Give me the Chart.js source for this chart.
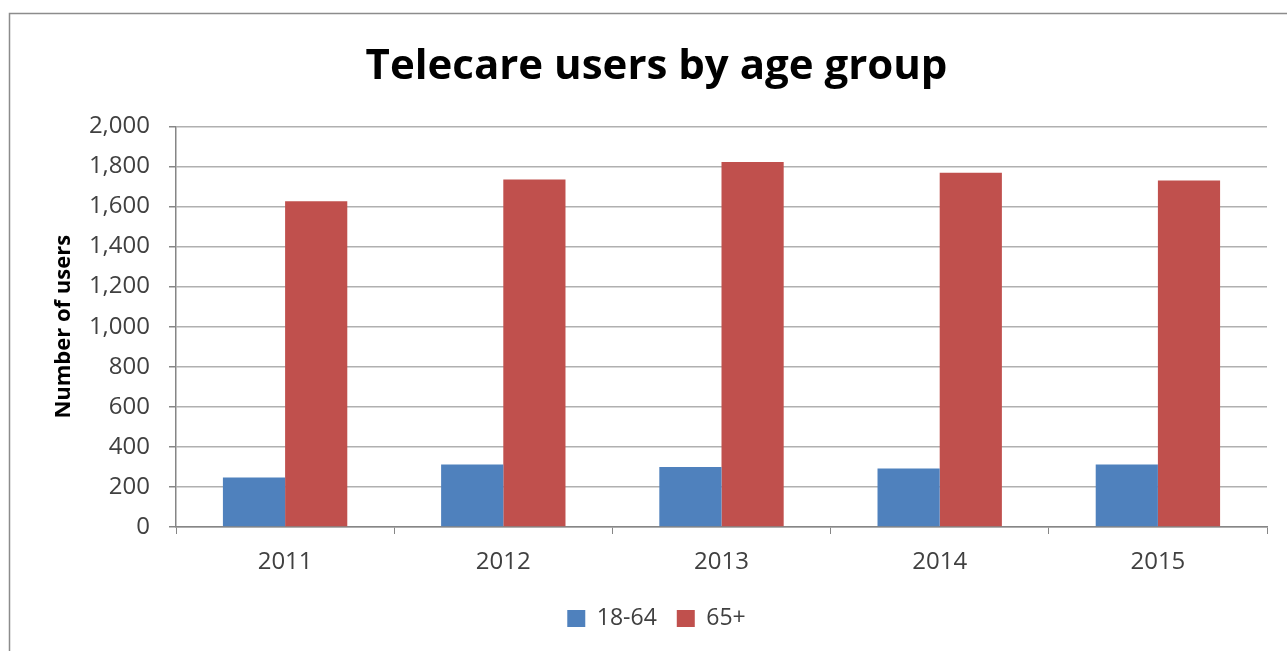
<!DOCTYPE html>
<html>
<head>
<meta charset="utf-8">
<title>Telecare users by age group</title>
<script src="https://cdn.jsdelivr.net/npm/chart.js@4/dist/chart.umd.min.js"></script>
<style>
  html, body { margin: 0; padding: 0; background: #ffffff; }
  #wrap { width: 1287px; height: 651px; position: relative; }
</style>
</head>
<body>
<div id="wrap"><canvas id="chart" width="1287" height="651"></canvas></div>
<script>
// Yearly telecare users, split by age band
const years = ['2011', '2012', '2013', '2014', '2015'];
const usersAge18to64 = [247, 312, 300, 292, 312];
const usersAge65plus = [1626, 1735, 1822, 1768, 1730];
const seriesNames = ['18-64', '65+'];

const axisGrey = '#868686';
const gridGrey = '#b0b0b0';
const textGrey = '#404040';
const baseFont = '"Open Sans", Lato, sans-serif';

// White page with a thin frame around the chart (open on the right and bottom)
const framePlugin = {
  id: 'frame',
  beforeDraw(chart) {
    const ctx = chart.ctx;
    ctx.save();
    ctx.fillStyle = '#ffffff';
    ctx.fillRect(0, 0, chart.width, chart.height);
    ctx.strokeStyle = '#8c8c8c';
    ctx.lineWidth = 1.5;
    ctx.strokeRect(9.5, 13.5, 1300, 700);
    ctx.restore();
  }
};

new Chart(document.getElementById('chart'), {
  type: 'bar',
  data: {
    labels: years,
    datasets: [
      { label: seriesNames[0], data: usersAge18to64, backgroundColor: '#4F81BD', borderWidth: 0 },
      { label: seriesNames[1], data: usersAge65plus, backgroundColor: '#C0504D', borderWidth: 0 }
    ]
  },
  options: {
    responsive: false,
    animation: false,
    devicePixelRatio: 1,
    categoryPercentage: 0.57,
    barPercentage: 1.0,
    layout: { padding: { left: 46, right: 20, top: 0, bottom: 11 } },
    plugins: {
      title: {
        display: true,
        text: 'Telecare users by age group',
        color: '#000000',
        font: { family: baseFont, size: 42, weight: 'bold' },
        padding: { top: 42, bottom: 34 }
      },
      legend: {
        display: true,
        position: 'bottom',
        labels: {
          color: textGrey,
          font: { family: baseFont, size: 23 },
          boxWidth: 18,
          boxHeight: 17,
          padding: 20
        }
      },
      tooltip: { enabled: false }
    },
    scales: {
      x: {
        offset: true,
        afterFit(scale) { scale.height = 60; },
        grid: {
          offset: true,
          drawOnChartArea: false,
          drawTicks: true,
          tickLength: 7,
          color: axisGrey,
          lineWidth: 1
        },
        border: { color: axisGrey, width: 1.5 },
        ticks: { color: textGrey, font: { family: baseFont, size: 24 }, padding: 14 }
      },
      y: {
        min: 0,
        max: 2000,
        afterFit(scale) { scale.width = 130; },
        ticks: {
          stepSize: 200,
          color: textGrey,
          font: { family: baseFont, size: 24 },
          padding: 19,
          callback: (v) => Number(v).toLocaleString('en-US')
        },
        grid: {
          color: gridGrey,
          lineWidth: 1.5,
          drawTicks: true,
          tickLength: 7,
          tickColor: axisGrey
        },
        border: { color: axisGrey, width: 1.5 },
        title: {
          display: true,
          text: 'Number of users',
          color: '#000000',
          font: { family: baseFont, size: 22, weight: 'bold' },
          padding: { top: 5, bottom: 6 }
        }
      }
    }
  },
  plugins: [framePlugin]
});
</script>
</body>
</html>
